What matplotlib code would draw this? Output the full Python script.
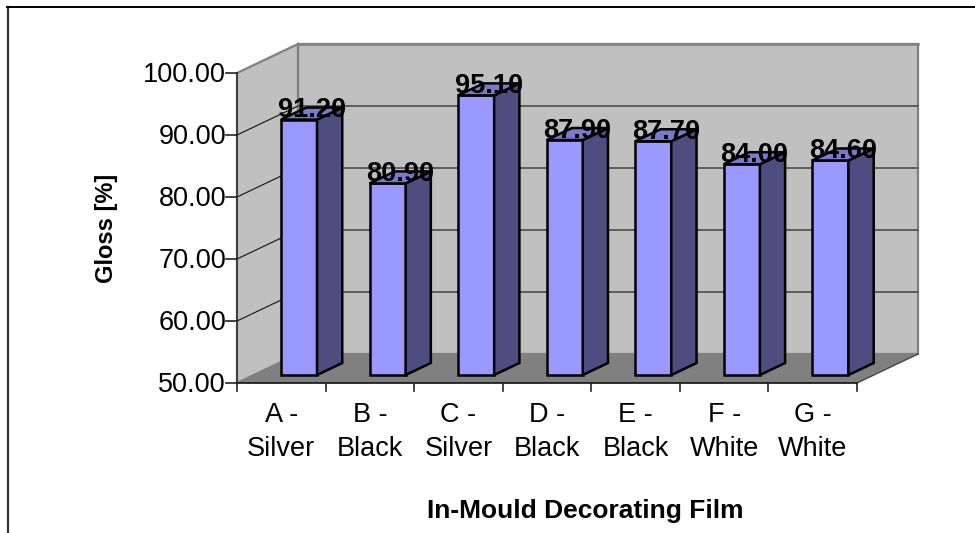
import matplotlib
matplotlib.use("Agg")
import matplotlib.pyplot as plt
from matplotlib.patches import Polygon
from matplotlib.lines import Line2D

plt.rcParams['font.family'] = ['Liberation Sans', 'DejaVu Sans']

categories = ["A -\nSilver", "B -\nBlack", "C -\nSilver", "D -\nBlack",
              "E -\nBlack", "F -\nWhite", "G -\nWhite"]
gloss = [91.20, 80.90, 95.10, 87.90, 87.70, 84.00, 84.60]
y_ticks = [50, 60, 70, 80, 90, 100]
y_label = "Gloss [%]"
x_label = "In-Mould Decorating Film"

W, H = 975, 533
fig = plt.figure(figsize=(W / 100, H / 100), dpi=100, facecolor="white")

# Front plane of the 3-D box in figure pixels
LEFT, RIGHT, TOP, BOTTOM = 237, 857, 73, 383
ax = fig.add_axes([LEFT / W, 1 - BOTTOM / H, (RIGHT - LEFT) / W, (BOTTOM - TOP) / H])
ax.set_xlim(0, len(categories))
ax.set_ylim(50, 100)
ax.axis("off")

# Oblique projection: one unit of depth moves a point right and up
DX = 61 / ((RIGHT - LEFT) / len(categories))
DY = 29 / ((BOTTOM - TOP) / 50)


def proj(x, y, d=0.0):
    return (x + d * DX, y + d * DY)


def face(pts, **kw):
    ax.add_patch(Polygon(pts, closed=True, clip_on=False, **kw))


def seg(a, b, **kw):
    ax.add_line(Line2D([a[0], b[0]], [a[1], b[1]], clip_on=False, **kw))


n = len(categories)
EDGE = "#808080"

# Walls and floor
face([proj(0, 50, 1), proj(n, 50, 1), proj(n, 100, 1), proj(0, 100, 1)],
     fc="#c0c0c0", ec=EDGE, lw=1.6, zorder=1)
face([proj(0, 50), proj(0, 100), proj(0, 100, 1), proj(0, 50, 1)],
     fc="#c0c0c0", ec=EDGE, lw=1.6, zorder=1)
face([proj(0, 50), proj(n, 50), proj(n, 50, 1), proj(0, 50, 1)],
     fc="#808080", ec="none", zorder=2)

# Gridlines across the side and back walls
for v in y_ticks[1:-1]:
    seg(proj(0, v), proj(0, v, 1), color="#111111", lw=0.8, zorder=3)
    seg(proj(0, v, 1), proj(n, v, 1), color="#555555", lw=1.3, zorder=3)
seg(proj(0, 100, 1), proj(n, 100, 1), color=EDGE, lw=1.8, zorder=3)

# Floor edges
seg(proj(n, 50), proj(n, 50, 1), color="#444444", lw=1.0, zorder=3)
seg(proj(0, 50), proj(n, 50), color="#111111", lw=1.2, zorder=6)

# Axis line and ticks
seg((0, 50), (0, 100), color="#333333", lw=1.2, zorder=6)
TICK_X = 11 / ((RIGHT - LEFT) / n)
TICK_Y = 8 / ((BOTTOM - TOP) / 50)
for v in y_ticks:
    seg((0, v), (-TICK_X, v), color="#222222", lw=1.2, zorder=6)
    ax.text(-TICK_X, v - 0.3, f"{v:.2f}", ha="right", va="center",
            fontsize=19.5, color="black", clip_on=False)
for i in range(n + 1):
    seg((i, 50), (i, 50 - TICK_Y), color="#222222", lw=1.2, zorder=6)
for i, c in enumerate(categories):
    ax.text(i + 0.5, 50 - 19 / 6.2, c, ha="center", va="top", fontsize=19.5,
            linespacing=1.42, color="black", clip_on=False)

# Bars sit part way into the box
BAR_D0 = 8 / 29
BAR_DEPTH = 12 / 29
BAR_X0 = 0.307
BAR_W = 36 / ((RIGHT - LEFT) / n)
OUT = dict(ec="black", lw=1.8, joinstyle="miter")
for i, v in enumerate(gloss):
    x0, x1 = i + BAR_X0, i + BAR_X0 + BAR_W
    d0, d1 = BAR_D0, BAR_D0 + BAR_DEPTH
    z = 10 + i
    face([proj(x0, 50, d0), proj(x1, 50, d0), proj(x1, v, d0), proj(x0, v, d0)],
         fc="#9999ff", zorder=z, **OUT)
    face([proj(x1, 50, d0), proj(x1, 50, d1), proj(x1, v, d1), proj(x1, v, d0)],
         fc="#4d4d80", zorder=z, **OUT)
    face([proj(x0, v, d0), proj(x1, v, d0), proj(x1, v, d1), proj(x0, v, d1)],
         fc="#7a7acc", zorder=z, **OUT)

# Value labels sit over the bar tops
for i, v in enumerate(gloss):
    xm, ym = proj(i + BAR_X0 + BAR_W / 2, v, BAR_D0 + BAR_DEPTH / 2)
    ax.text(xm, ym + 0.5, f"{v:.2f}", ha="center", va="center", fontsize=19.5,
            fontweight="bold", color="black", clip_on=False, zorder=40)

# Axis titles
fig.text(107 / W, 1 - 228 / H, y_label, rotation=90, ha="center", va="center",
         fontsize=17, fontweight="bold")
fig.text(585 / W, 1 - 511 / H, x_label, ha="center", va="center",
         fontsize=19, fontweight="bold")

# Chart frame: top and left edges only
fig.add_artist(Line2D([8 / W, 8 / W], [0, 1 - 7 / H], color="#333333", lw=1.6))
fig.add_artist(Line2D([7 / W, 1], [1 - 7 / H, 1 - 7 / H], color="black", lw=1.4))

fig.savefig("out.png", dpi=100)
